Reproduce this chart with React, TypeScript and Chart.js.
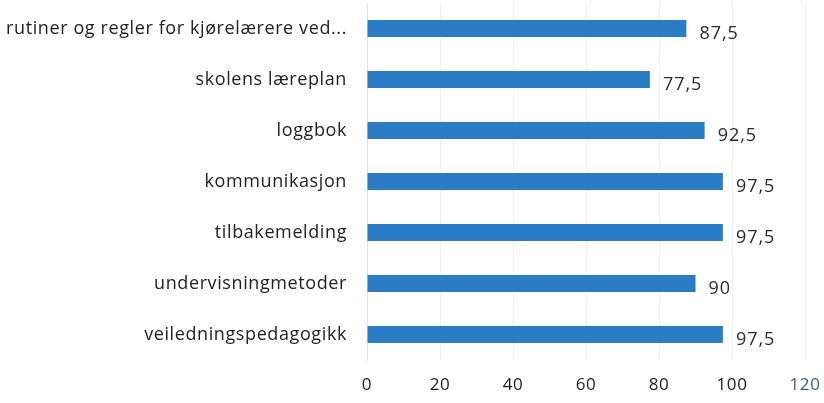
import React, { useEffect, useRef } from "react";
import { Chart, registerables } from "chart.js";

Chart.register(...registerables);

const categories = [
  "rutiner og regler for kjørelærere ved...",
  "skolens læreplan",
  "loggbok",
  "kommunikasjon",
  "tilbakemelding",
  "undervisningmetoder",
  "veiledningspedagogikk",
];
const values = [87.5, 77.5, 92.5, 97.5, 97.5, 90, 97.5];
const xTicks = [0, 20, 40, 60, 80, 100, 120];

const FONT = "'Open Sans', Lato, sans-serif";

const spacing = {
  id: "spacing",
  beforeDraw(chart: any) {
    chart.ctx.letterSpacing = "0.6px";
  },
  afterDraw(chart: any) {
    chart.ctx.letterSpacing = "0px";
  },
};

const valueLabels = {
  id: "valueLabels",
  afterDatasetsDraw(chart: any) {
    const ctx = chart.ctx;
    const meta = chart.getDatasetMeta(0);
    ctx.save();
    ctx.letterSpacing = "1px";
    ctx.font = `18px ${FONT}`;
    ctx.fillStyle = "#2b2b2b";
    ctx.textAlign = "left";
    ctx.textBaseline = "middle";
    meta.data.forEach((bar: any, i: number) => {
      const txt = String(values[i]).replace(".", ",");
      ctx.fillText(txt, bar.x + 13, bar.y + 5);
    });
    ctx.restore();
  },
};

export default function App() {
  const ref = useRef<HTMLCanvasElement>(null);
  useEffect(() => {
    document.body.style.margin = "0";
    const chart = new Chart(ref.current!, {
      type: "bar",
      data: {
        labels: categories,
        datasets: [
          {
            data: values,
            backgroundColor: "#2A7DC4",
            barPercentage: 0.67,
            categoryPercentage: 0.5,
          },
        ],
      },
      options: {
        indexAxis: "y",
        animation: false,
        responsive: true,
        maintainAspectRatio: false,
        layout: { padding: { top: 3, right: 19, left: 0, bottom: 0 } },
        plugins: { legend: { display: false }, tooltip: { enabled: false } },
        scales: {
          x: {
            min: 0,
            max: 120,
            afterBuildTicks: (s: any) => {
              s.ticks = xTicks.map((v) => ({ value: v }));
            },
            grid: { color: "rgba(0,0,0,0.06)", drawTicks: false },
            border: { display: false },
            ticks: {
              font: { family: FONT, size: 17 },
              color: (c: any) => (c.tick && c.tick.value === 120 ? "#3d5a80" : "#222222"),
              padding: 15,
            },
            afterFit: (s: any) => {
              s.height = 43;
              s.paddingLeft = 0;
              s.paddingRight = 0;
            },
          },
          y: {
            grid: { display: false, drawTicks: false },
            border: { display: true, color: "rgba(0,0,0,0.06)" },
            ticks: {
              font: { family: FONT, size: 18 },
              color: "#222222",
              padding: 20,
            },
            afterFit: (s: any) => {
              s.width = 367;
              s.paddingTop = 0;
              s.paddingBottom = 0;
            },
          },
        },
      },
      plugins: [spacing, valueLabels],
    });
    return () => chart.destroy();
  }, []);
  return (
    <div style={{ position: "relative", width: 824, height: 403 }}>
      <canvas ref={ref} />
    </div>
  );
}
